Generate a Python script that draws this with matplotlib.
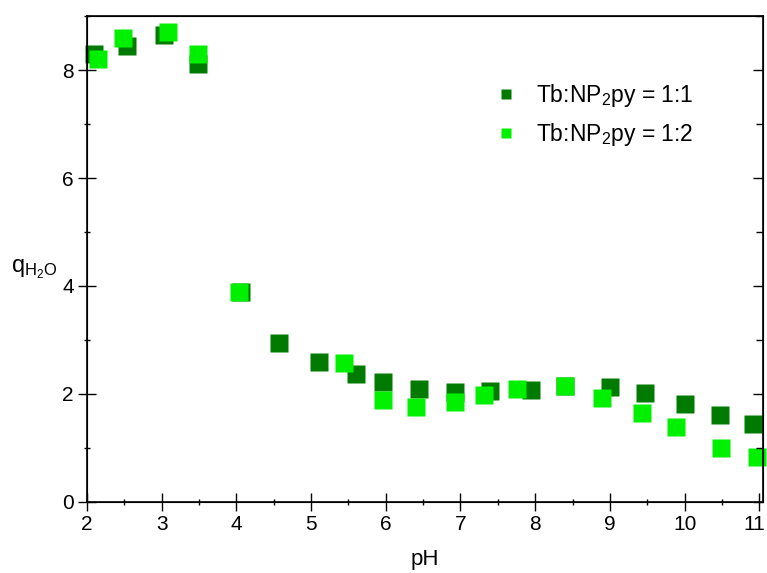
import matplotlib
matplotlib.use("Agg")
import matplotlib.pyplot as plt
from matplotlib.ticker import MultipleLocator
from matplotlib.transforms import ScaledTranslation

plt.rcParams["font.family"] = ["Liberation Sans", "DejaVu Sans"]
plt.rcParams["mathtext.fontset"] = "custom"
plt.rcParams["mathtext.rm"] = "Liberation Sans"
plt.rcParams["mathtext.it"] = "Liberation Sans"

# Tb:NP2py = 1:1
ph_11 = [2.10, 2.53, 3.03, 3.48, 4.06, 4.57, 5.10, 5.60, 5.96, 6.44, 6.92,
         7.39, 7.94, 8.40, 9.00, 9.47, 10.00, 10.48, 10.92]
q_11 = [8.30, 8.44, 8.65, 8.12, 3.88, 2.95, 2.60, 2.37, 2.22, 2.10, 2.04,
        2.05, 2.07, 2.15, 2.13, 2.02, 1.81, 1.61, 1.44]

# Tb:NP2py = 1:2
ph_12 = [2.15, 2.48, 3.08, 3.48, 4.03, 5.44, 5.96, 6.40, 6.92, 7.31, 7.76,
         8.40, 8.90, 9.43, 9.89, 10.49, 10.97]
q_12 = [8.20, 8.60, 8.70, 8.30, 3.88, 2.57, 1.89, 1.75, 1.85, 1.98, 2.09,
        2.14, 1.93, 1.64, 1.39, 1.00, 0.83]

x_ticks = [2, 3, 4, 5, 6, 7, 8, 9, 10, 11]

DARK = "#007a00"
LIGHT = "#00f000"

fig = plt.figure(figsize=(7.67, 5.73), dpi=100)
ax = fig.add_axes([0.1134, 0.124, 0.8814, 0.848])

ax.plot(ph_11, q_11, ls="none", marker="s", ms=13, mec="none", color=DARK,
        label=r"Tb:NP$_2$py = 1:1", clip_on=False)
ax.plot(ph_12, q_12, ls="none", marker="s", ms=13, mec="none", color=LIGHT,
        label=r"Tb:NP$_2$py = 1:2", clip_on=False)

ax.set_xlim(2, 11.05)
ax.set_ylim(0, 9)
ax.set_xticks(x_ticks)
ax.xaxis.set_minor_locator(MultipleLocator(0.5))
ax.yaxis.set_major_locator(MultipleLocator(2))
ax.yaxis.set_minor_locator(MultipleLocator(1))
ax.tick_params(which="major", direction="inout", length=13, width=1,
               labelsize=15, pad=3)
ax.tick_params(which="minor", direction="inout", length=5, width=1)
for s in ax.spines.values():
    s.set_linewidth(1.2)

# right side ticks point inward, no labels
ax2 = ax.twinx()
ax2.set_ylim(0, 9)
ax2.yaxis.set_major_locator(MultipleLocator(2))
ax2.yaxis.set_minor_locator(MultipleLocator(1))
ax2.tick_params(which="major", direction="in", length=7, width=1,
                labelright=False)
ax2.tick_params(which="minor", direction="in", length=5, width=1)

ax.set_xlabel("pH", fontsize=16, labelpad=11)
ax.set_ylabel(r"q$_{\mathrm{H_2O}}$", fontsize=17, rotation=0, va="center")
ax.yaxis.set_label_coords(-0.078, 0.48)

# keep the last x label ("11") inside the figure edge
last = ax.xaxis.get_major_ticks()[len(x_ticks) - 1].label1
last.set_transform(last.get_transform()
                   + ScaledTranslation(-5 / 100, 0, fig.dpi_scale_trans))

ax.legend(loc="upper left", bbox_to_anchor=(0.572, 0.884), frameon=False,
          fontsize=16.5, markerscale=0.55, handletextpad=0.3,
          labelspacing=0.55, borderaxespad=0)

fig.savefig("out.png", dpi=100, facecolor="white")
